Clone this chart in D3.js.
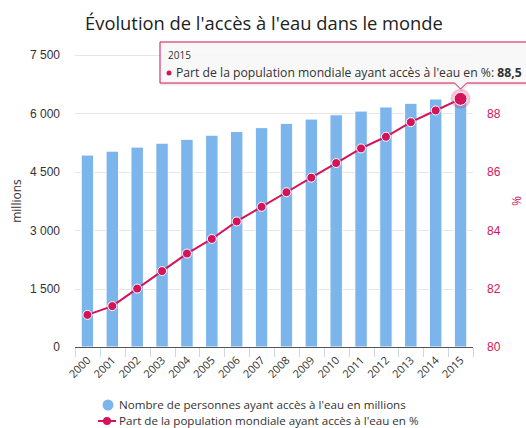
<!DOCTYPE html>
<html>
<head>
<meta charset="utf-8">
<script src="https://cdn.jsdelivr.net/npm/d3@7"></script>
<style>
  html, body { margin: 0; padding: 0; background: #fff; }
  svg { display: block; font-family: "Open Sans", "Noto Sans", sans-serif; }
</style>
</head>
<body>
<svg id="chart" width="526" height="428"></svg>
<script>
// Years on the category axis
const years = ["2000","2001","2002","2003","2004","2005","2006","2007",
               "2008","2009","2010","2011","2012","2013","2014","2015"];
// People with access to water, millions (columns, left axis)
const peopleMillions = [4930, 5030, 5135, 5235, 5335, 5440, 5535, 5635,
                        5745, 5855, 5965, 6060, 6165, 6260, 6370, 6470];
// Share of world population with access, % (line, right axis)
const sharePct = [81.1, 81.4, 82.0, 82.6, 83.2, 83.7, 84.3, 84.8,
                  85.3, 85.8, 86.3, 86.8, 87.2, 87.7, 88.1, 88.5];
const leftTicks = [0, 1500, 3000, 4500, 6000, 7500];
const rightTicks = [80, 82, 84, 86, 88];

const titleText = "Évolution de l'accès à l'eau dans le monde";
const barName = "Nombre de personnes ayant accès à l'eau en millions";
const lineName = "Part de la population mondiale ayant accès à l'eau en %";
const hoverIndex = 15;

const BLUE = "#7cb5ec", RED = "#d4145a";
const svg = d3.select("#chart");
const plot = { left: 75, right: 473, top: 55, bottom: 347 };

const x = d3.scaleBand().domain(years).range([plot.left, plot.right]).paddingInner(0.5).paddingOuter(0.25);
const xTicks = d3.scaleBand().domain(years).range([plot.left, plot.right]);
const yL = d3.scaleLinear().domain([0, 7500]).range([plot.bottom, plot.top]);
const yR = d3.scaleLinear().domain([80, 90]).range([plot.bottom, plot.top]);
const fmt = d3.formatLocale({ decimal: ",", thousands: " ", grouping: [3] }).format(",");

// Title, sized to span a fixed width
const title = svg.append("text").attr("x", 264).attr("y", 30).attr("text-anchor", "middle")
  .attr("font-size", 21).attr("fill", "#222").text(titleText);
const tl = title.node().getComputedTextLength();
title.attr("font-size", 21 * 358 / tl);

// Grid lines
svg.append("g").selectAll("line").data(leftTicks).join("line")
  .attr("x1", plot.left).attr("x2", plot.right)
  .attr("y1", d => Math.round(yL(d)) + 0.5).attr("y2", d => Math.round(yL(d)) + 0.5)
  .attr("stroke", "#e6e6e6");

// Left axis labels
const gL = svg.append("g").attr("transform", `translate(${plot.left},0)`)
  .call(d3.axisLeft(yL).tickValues(leftTicks).tickFormat(fmt).tickSize(0).tickPadding(15));
gL.select(".domain").remove();
gL.selectAll("text").attr("font-size", 12).attr("fill", "#333").attr("font-family", null);

// Right axis labels
const gR = svg.append("g").attr("transform", `translate(${plot.right},0)`)
  .call(d3.axisRight(yR).tickValues(rightTicks).tickSize(0).tickPadding(14));
gR.select(".domain").remove();
gR.selectAll("text").attr("font-size", 12).attr("fill", RED).attr("font-family", null);

// Axis titles
svg.append("text").attr("transform", `translate(21,${(plot.top + plot.bottom) / 2}) rotate(-90)`)
  .attr("text-anchor", "middle").attr("font-size", 12).attr("fill", "#333").text("millions");
svg.append("text").attr("transform", `translate(512,${(plot.top + plot.bottom) / 2}) rotate(90)`)
  .attr("text-anchor", "middle").attr("font-size", 12).attr("fill", RED).text("%");

// Columns
svg.append("g").selectAll("rect").data(years).join("rect")
  .attr("x", d => x(d)).attr("width", x.bandwidth())
  .attr("y", (d, i) => yL(peopleMillions[i]))
  .attr("height", (d, i) => plot.bottom - yL(peopleMillions[i]))
  .attr("fill", BLUE).attr("stroke", "#fff").attr("stroke-width", 1);

// Category axis
const gX = svg.append("g").attr("transform", `translate(0,${plot.bottom})`);
gX.append("line").attr("x1", plot.left).attr("x2", plot.right).attr("y1", 0.5).attr("y2", 0.5)
  .attr("stroke", "#555");
gX.selectAll("line.tick").data(years.concat(["end"])).join("line").attr("class", "tick")
  .attr("x1", (d, i) => Math.round(plot.left + i * xTicks.step()) + 0.5)
  .attr("x2", (d, i) => Math.round(plot.left + i * xTicks.step()) + 0.5)
  .attr("y1", 1).attr("y2", 10).attr("stroke", "#ccd6eb");
gX.selectAll("text").data(years).join("text")
  .attr("transform", d => `translate(${x(d) + x.bandwidth() / 2 + 4},${14}) rotate(-45)`)
  .attr("text-anchor", "end").attr("font-size", 11).attr("fill", "#333").text(d => d);

// Line series
const cx = (d, i) => x(years[i]) + x.bandwidth() / 2;
svg.append("path").datum(sharePct)
  .attr("d", d3.line().x(cx).y(d => yR(d)))
  .attr("fill", "none").attr("stroke", RED).attr("stroke-width", 2);
svg.append("g").selectAll("circle").data(sharePct).join("circle")
  .attr("cx", cx).attr("cy", d => yR(d))
  .attr("r", (d, i) => i === hoverIndex ? 0 : 4.5)
  .attr("fill", RED).attr("stroke", "#fff").attr("stroke-width", 1);

// Hovered point with halo
const hx = cx(null, hoverIndex), hy = yR(sharePct[hoverIndex]);
svg.append("circle").attr("cx", hx).attr("cy", hy).attr("r", 10).attr("fill", RED).attr("opacity", 0.25);
svg.append("circle").attr("cx", hx).attr("cy", hy).attr("r", 6.5)
  .attr("fill", RED).attr("stroke", "#fff").attr("stroke-width", 1);

// Tooltip
const tip = svg.append("g");
const tx = 160, ty = 42, tw = 380, th = 41;
const tipPath = `M${tx},${ty} h${tw} v${th} H${hx + 6} l-6,6 l-6,-6 H${tx} Z`;
tip.append("path").attr("d", tipPath).attr("transform", "translate(1,1)")
  .attr("fill", "none").attr("stroke", "#000").attr("stroke-opacity", 0.08).attr("stroke-width", 3);
tip.append("path").attr("d", tipPath).attr("fill", "#f7f7f7").attr("fill-opacity", 0.9)
  .attr("stroke", RED).attr("stroke-width", 1);
tip.append("text").attr("x", tx + 8).attr("y", ty + 17).attr("font-size", 10).attr("fill", "#333")
  .text(years[hoverIndex]);
tip.append("circle").attr("cx", tx + 9).attr("cy", ty + 31).attr("r", 2.5).attr("fill", RED);
const t2 = tip.append("text").attr("x", tx + 16).attr("y", ty + 35).attr("font-size", 12.2).attr("fill", "#333");
t2.append("tspan").text(lineName + ": ");
t2.append("tspan").attr("font-weight", "bold").text(d3.format(".1f")(sharePct[hoverIndex]).replace(".", ","));

// Legend
const lg = svg.append("g");
lg.append("circle").attr("cx", 108).attr("cy", 405).attr("r", 5.5).attr("fill", BLUE);
lg.append("text").attr("x", 119).attr("y", 408.5).attr("font-size", 11.6).attr("fill", "#333").text(barName);
lg.append("line").attr("x1", 98).attr("x2", 116).attr("y1", 421).attr("y2", 421)
  .attr("stroke", RED).attr("stroke-width", 2);
lg.append("circle").attr("cx", 107).attr("cy", 421).attr("r", 4).attr("fill", RED);
lg.append("text").attr("x", 119).attr("y", 424.5).attr("font-size", 11.6).attr("fill", "#333").text(lineName);
</script>
</body>
</html>
